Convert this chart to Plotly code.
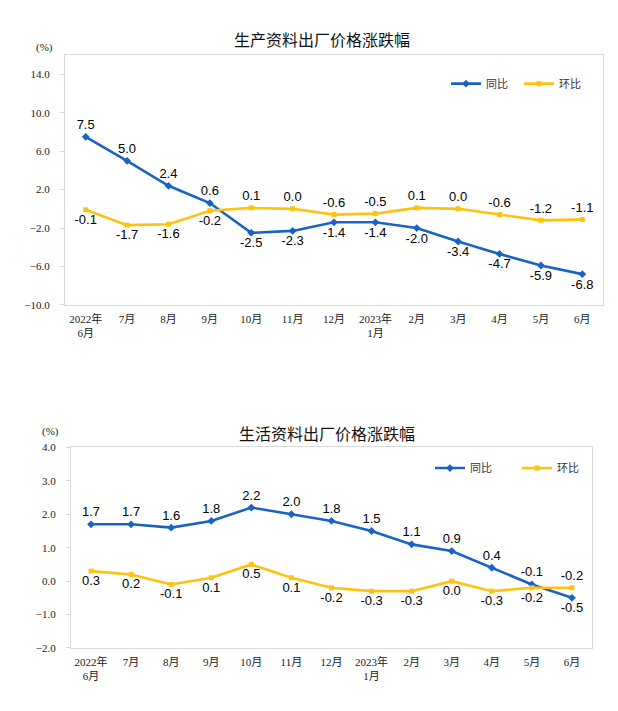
import plotly.graph_objects as go

categories = ["2022年<br>6月", "7月", "8月", "9月", "10月", "11月", "12月",
              "2023年<br>1月", "2月", "3月", "4月", "5月", "6月"]

# 生产资料
prod_yoy = [7.5, 5.0, 2.4, 0.6, -2.5, -2.3, -1.4, -1.4, -2.0, -3.4, -4.7, -5.9, -6.8]
prod_mom = [-0.1, -1.7, -1.6, -0.2, 0.1, 0.0, -0.6, -0.5, 0.1, 0.0, -0.6, -1.2, -1.1]
prod_yoy_pos = ["top center"] * 4 + ["bottom center"] * 9
prod_mom_pos = ["bottom center"] * 4 + ["top center"] * 9

# 生活资料
life_yoy = [1.7, 1.7, 1.6, 1.8, 2.2, 2.0, 1.8, 1.5, 1.1, 0.9, 0.4, -0.1, -0.5]
life_mom = [0.3, 0.2, -0.1, 0.1, 0.5, 0.1, -0.2, -0.3, -0.3, 0.0, -0.3, -0.2, -0.2]
life_yoy_pos = ["top center"] * 12 + ["bottom center"]
life_mom_pos = ["bottom center"] * 12 + ["top center"]

titles = ["生产资料出厂价格涨跌幅", "生活资料出厂价格涨跌幅"]
series_names = ["同比", "环比"]

BLUE = "#1A63C6"
YELLOW = "#FFC20E"
W, H = 618, 711
SERIF = "Liberation Serif, Noto Sans CJK SC"
SANS = "Liberation Sans, Arial"
CJK = "Noto Sans CJK SC"

def px(x):
    return x / W

def py(y):
    return 1 - y / H

fig = go.Figure()

label_font = dict(family=SANS, size=13, color="#000000")

def add_pair(yoy, mom, ypos, mpos, xa, ya, leg):
    fig.add_trace(go.Scatter(
        x=categories, y=yoy, name=series_names[0], mode="lines+markers+text",
        line=dict(color=BLUE, width=2.6), marker=dict(symbol="diamond", size=6, color=BLUE),
        text=[f"{v:.1f}" for v in yoy], textposition=ypos, textfont=label_font,
        xaxis=xa, yaxis=ya, legend=leg, cliponaxis=False))
    fig.add_trace(go.Scatter(
        x=categories, y=mom, name=series_names[1], mode="lines+markers+text",
        line=dict(color=YELLOW, width=2.6), marker=dict(symbol="square", size=5, color=YELLOW),
        text=[f"{v:.1f}" for v in mom], textposition=mpos, textfont=label_font,
        xaxis=xa, yaxis=ya, legend=leg, cliponaxis=False))

add_pair(prod_yoy, prod_mom, prod_yoy_pos, prod_mom_pos, "x", "y", "legend")
add_pair(life_yoy, life_mom, life_yoy_pos, life_mom_pos, "x2", "y2", "legend2")

# geometry
top = dict(x0=65, x1=603, y0=50, y1=304, r=(-10, 16), tick0=-10, dtick=4)
bot = dict(x0=71, x1=592, y0=449, y1=653, r=(-2, 4), tick0=-2, dtick=1)

BOX = "#D9D9D9"
axis_common = dict(showline=True, mirror=True, linecolor=BOX, linewidth=1, showgrid=False,
                   zeroline=False)

layout = dict(width=W, height=H, margin=dict(l=0, r=0, t=0, b=0),
              paper_bgcolor="white", plot_bgcolor="white", showlegend=True)

for i, g in enumerate([top, bot]):
    sx = "" if i == 0 else "2"
    xd = [px(g["x0"]), px(g["x1"])]
    yd = [py(g["y1"]), py(g["y0"])]
    layout["xaxis" + sx] = dict(axis_common, domain=xd, anchor="y" + sx, type="category",
                                categoryorder="array", categoryarray=categories,
                                range=[-0.5, 12.5], ticks="", ticklabelstandoff=4,
                                tickfont=dict(family=SERIF, size=11, color="#222222"))
    layout["yaxis" + sx] = dict(axis_common, domain=yd, anchor="x" + sx,
                                range=list(g["r"]), tick0=g["tick0"], dtick=g["dtick"],
                                tickformat=".1f", ticks="outside", ticklen=4, tickcolor=BOX,
                                ticklabelstandoff=8,
                                tickfont=dict(family=SERIF, size=11, color="#222222"))
    lo, hi = g["r"]
    zero_pos = yd[0] + (0 - lo) / (hi - lo) * (yd[1] - yd[0])
    zname = "xaxis" + ("3" if i == 0 else "4")
    layout[zname] = dict(overlaying="x" + sx, anchor="free", position=zero_pos,
                         type="linear", range=[-0.5, 12.5], tick0=-0.5, dtick=1,
                         showticklabels=False, ticks="outside", ticklen=4, tickcolor="#BFBFBF",
                         showline=True, linecolor="#BFBFBF", linewidth=1, showgrid=False,
                         zeroline=False, layer="below traces", side="bottom")

layout["legend"] = dict(orientation="h", x=px(446), y=py(79), xanchor="left", yanchor="middle",
                        font=dict(family=CJK, size=11, color="#333333"), itemwidth=30,
                        bgcolor="rgba(0,0,0,0)", entrywidth=28, tracegroupgap=0)
layout["legend2"] = dict(orientation="h", x=px(430), y=py(470), xanchor="left", yanchor="middle",
                         font=dict(family=CJK, size=11, color="#333333"), itemwidth=30,
                         bgcolor="rgba(0,0,0,0)", entrywidth=42, tracegroupgap=0)

anns = [
    dict(text=titles[0], x=px(322), y=py(34), xref="paper", yref="paper", showarrow=False,
         font=dict(family=CJK, size=16, color="#111111"), xanchor="center", yanchor="middle"),
    dict(text=titles[1], x=px(327), y=py(434), xref="paper", yref="paper", showarrow=False,
         font=dict(family=CJK, size=16, color="#111111"), xanchor="center", yanchor="middle"),
    dict(text="(%)", x=px(44), y=py(42), xref="paper", yref="paper", showarrow=False,
         font=dict(family=SERIF, size=11, color="#222222"), xanchor="center", yanchor="middle"),
    dict(text="(%)", x=px(50), y=py(433), xref="paper", yref="paper", showarrow=False,
         font=dict(family=SERIF, size=11, color="#222222"), xanchor="center", yanchor="middle"),
]
layout["annotations"] = anns

fig.update_layout(**layout)
fig.write_html("out.html", config={"displayModeBar": False},
               post_script="document.body.style.margin='0';")
